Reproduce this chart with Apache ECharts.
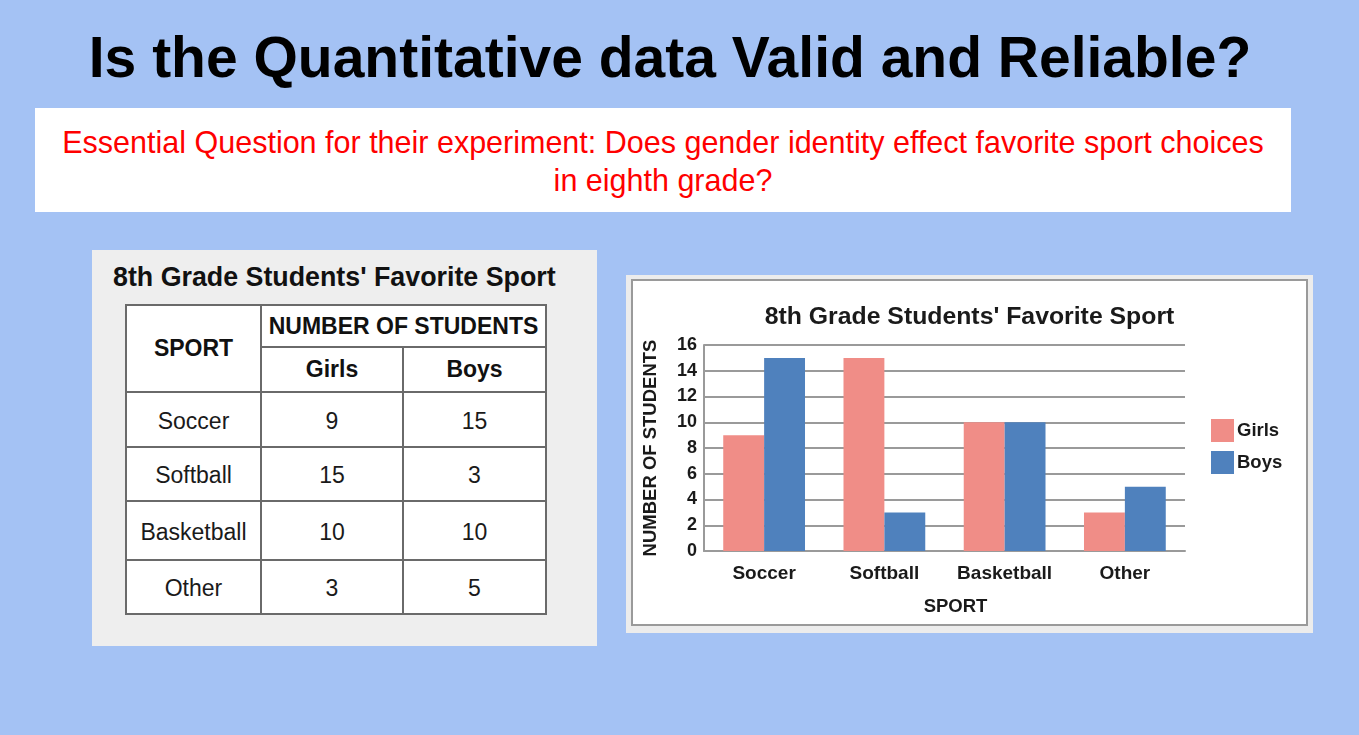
<!DOCTYPE html>
<html>
<head>
<meta charset="utf-8">
<script src="https://cdn.jsdelivr.net/npm/echarts@6/dist/echarts.min.js"></script>
<style>
  html, body { margin: 0; padding: 0; }
  body { width: 1359px; height: 735px; background: #a4c2f4; position: relative; overflow: hidden;
         font-family: "Liberation Sans", Arial, sans-serif; }
  #title { position: absolute; left: 0; width: 1340px; top: 29px; text-align: center;
           font-size: 57px; line-height: 57px; font-weight: bold; color: #000; white-space: nowrap; }
  #qbox { position: absolute; left: 35px; top: 108px; width: 1256px; height: 104px; background: #fff; }
  #qtext { position: absolute; left: 0; width: 1256px; top: 15px; text-align: center; color: #ff0000;
           font-size: 30.5px; line-height: 38px; white-space: nowrap; }
  #tpanel { position: absolute; left: 92px; top: 250px; width: 505px; height: 396px; background: #eeeeee; }
  #ttitle { position: absolute; left: 21px; top: 12px; font-size: 26.8px; font-weight: bold; color: #111; white-space: nowrap; }
  .cell { position: absolute; box-sizing: border-box; background: #fff; border: 2px solid #6a6a6a;
          display: flex; align-items: center; justify-content: center; font-size: 23px; color: #1a1a1a; white-space: nowrap; }
  .dat { padding-top: 3px; }
  .hd { font-weight: bold; color: #111; }
  #cpanel { position: absolute; left: 626px; top: 275px; width: 687px; height: 358px; background: #ececec; }
  #cbox { position: absolute; left: 5px; top: 4px; width: 673px; height: 343px; border: 2px solid #9a9a9a; background: #fff; }
  #chart { width: 673px; height: 343px; }
</style>
</head>
<body>
<div id="title">Is the Quantitative data Valid and Reliable?</div>
<div id="qbox"><div id="qtext"></div></div>
<div id="tpanel"><div id="ttitle"></div></div>
<div id="cpanel"><div id="cbox"><div id="chart"></div></div></div>
<script>
// ---- data ----
var chartTitle = "8th Grade Students' Favorite Sport";
var questionLines = [
  "Essential Question for their experiment: Does gender identity effect favorite sport choices",
  "in eighth grade?"
];
var sports = ["Soccer", "Softball", "Basketball", "Other"];
var seriesNames = ["Girls", "Boys"];
var girls = [9, 15, 10, 3];
var boys = [15, 3, 10, 5];
var yTicks = [0, 2, 4, 6, 8, 10, 12, 14, 16];
var xAxisName = "SPORT";
var yAxisName = "NUMBER OF STUDENTS";
var tableHeadSport = "SPORT";
var tableHeadCount = "NUMBER OF STUDENTS";

// ---- question text ----
document.getElementById('qtext').innerHTML = questionLines.join('<br>');
document.getElementById('ttitle').textContent = chartTitle;

// ---- table (layout edges relative to panel) ----
var colEdges = [33, 168, 310, 453];
var rowEdges = [54, 96, 141, 196, 250, 309, 363];
var panel = document.getElementById('tpanel');
function cell(c0, c1, r0, r1, text, head) {
  var d = document.createElement('div');
  d.className = 'cell' + (head ? ' hd' : ' dat');
  d.style.left = colEdges[c0] + 'px';
  d.style.top = rowEdges[r0] + 'px';
  d.style.width = (colEdges[c1] - colEdges[c0] + 2) + 'px';
  d.style.height = (rowEdges[r1] - rowEdges[r0] + 2) + 'px';
  d.textContent = text;
  panel.appendChild(d);
}
cell(0, 1, 0, 2, tableHeadSport, true);
cell(1, 3, 0, 1, tableHeadCount, true);
cell(1, 2, 1, 2, seriesNames[0], true);
cell(2, 3, 1, 2, seriesNames[1], true);
for (var i = 0; i < sports.length; i++) {
  cell(0, 1, i + 2, i + 3, sports[i], false);
  cell(1, 2, i + 2, i + 3, String(girls[i]), false);
  cell(2, 3, i + 2, i + 3, String(boys[i]), false);
}

// ---- chart ----
var chart = echarts.init(document.getElementById('chart'));
var txt = '#1a1a1a';
var font = '"Liberation Sans", Arial, sans-serif';
chart.setOption({
  animation: false,
  textStyle: { fontFamily: font },
  title: {
    text: chartTitle, left: 'center', top: 19,
    textStyle: { fontSize: 24.8, fontWeight: 'bold', color: txt, fontFamily: font }
  },
  legend: {
    orient: 'vertical', left: 573, top: 133, itemWidth: 23, itemHeight: 23, itemGap: 9,
    icon: 'rect',
    textStyle: { fontSize: 18.5, fontWeight: 'bold', color: txt, fontFamily: font, padding: [0, 0, 0, -2] },
    data: seriesNames
  },
  grid: { left: 71, top: 64, width: 481, height: 206 },
  xAxis: {
    type: 'category', data: sports,
    name: xAxisName, nameLocation: 'middle', nameGap: 46,
    nameTextStyle: { fontSize: 18.5, fontWeight: 'bold', color: txt, fontFamily: font, padding: [0, 0, 0, 22] },
    axisLine: { show: true, lineStyle: { color: '#9a9a9a', width: 2 } },
    axisTick: { show: false },
    axisLabel: { interval: 0, fontSize: 19, fontWeight: 'bold', color: txt, margin: 13, fontFamily: font }
  },
  yAxis: {
    type: 'value', min: yTicks[0], max: yTicks[yTicks.length - 1], interval: yTicks[1] - yTicks[0],
    name: yAxisName, nameLocation: 'middle', nameGap: 44, nameRotate: 90,
    nameTextStyle: { fontSize: 18.5, fontWeight: 'bold', color: txt, fontFamily: font },
    axisLine: { show: true, lineStyle: { color: '#9a9a9a', width: 2 } },
    axisTick: { show: false },
    axisLabel: { fontSize: 18, fontWeight: 'bold', color: txt, margin: 7, fontFamily: font },
    splitLine: { show: true, lineStyle: { color: '#9a9a9a', width: 2 } }
  },
  series: [
    { name: seriesNames[0], type: 'bar', data: girls, barGap: '0%', barCategoryGap: '32%',
      itemStyle: { color: '#f08d87' } },
    { name: seriesNames[1], type: 'bar', data: boys, barGap: '0%', barCategoryGap: '32%',
      itemStyle: { color: '#4f81bd' } }
  ]
});
</script>
</body>
</html>
